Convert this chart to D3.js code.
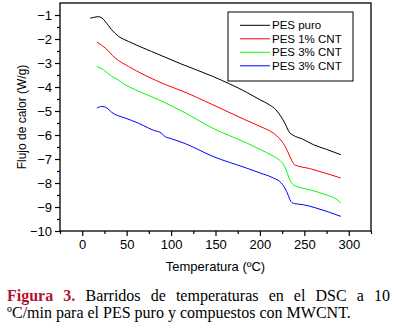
<!DOCTYPE html>
<html>
<head>
<meta charset="utf-8">
<script src="https://cdn.jsdelivr.net/npm/d3@7"></script>
<style>
  body { margin: 0; background: #fff; }
  #chart { position: relative; width: 395px; height: 335px; }
  .caption { position: absolute; left: 7px; width: 383px; font-family: "Liberation Serif", "Times New Roman", serif; font-size: 16px; line-height: 16px; color: #000; white-space: nowrap; }
  .caption.first { top: 288px; text-align: justify; text-align-last: justify; white-space: normal; }
  .caption.second { top: 305px; }
  .fig { color: #b3122c; font-weight: bold; }
</style>
</head>
<body>
<div id="chart"></div>
<script>
// series data (temperature in ºC, heat flow in W/g)
const tempPuro = [9, 13, 18, 22, 26, 33, 41, 52, 78, 110, 147, 185, 200, 211, 218, 224, 228, 233, 237, 248, 260, 275, 291];
const flujoPuro = [-1.13, -1.1, -1.07, -1.12, -1.27, -1.61, -1.89, -2.1, -2.52, -3.02, -3.56, -4.22, -4.53, -4.75, -4.95, -5.25, -5.5, -5.88, -6.0, -6.17, -6.4, -6.6, -6.82];

const temp1CNT = [16.5, 26, 37, 52, 70, 95, 110, 147, 183, 200, 215, 222, 228, 232, 235, 239, 256, 291];
const flujo1CNT = [-2.13, -2.38, -2.79, -3.14, -3.5, -3.92, -4.13, -4.74, -5.36, -5.64, -5.92, -6.15, -6.45, -6.75, -7.0, -7.24, -7.4, -7.79];

const temp3CNT = [16.5, 24, 33, 41, 48, 59.5, 86, 116, 147, 185, 200, 215, 222, 227, 231, 234, 237, 240, 256, 275, 285, 291];
const flujo3CNT = [-3.14, -3.28, -3.55, -3.72, -3.9, -4.11, -4.53, -5.08, -5.72, -6.33, -6.6, -6.88, -7.05, -7.25, -7.6, -7.9, -8.05, -8.12, -8.28, -8.5, -8.65, -8.83];

const temp3CNTb = [16.5, 22, 28, 33, 48, 63, 74.5, 80, 89, 93, 100, 116, 147, 185, 200, 215, 224, 230, 235, 239, 248, 263, 291];
const flujo3CNTb = [-4.88, -4.81, -4.88, -5.05, -5.29, -5.5, -5.71, -5.8, -5.92, -6.06, -6.15, -6.36, -6.89, -7.38, -7.58, -7.79, -8.0, -8.35, -8.77, -8.86, -8.9, -9.04, -9.39];

const seriesNames = ["PES puro", "PES 1% CNT", "PES 3% CNT", "PES 3% CNT"];
const seriesColors = ["#000000", "#ff0000", "#00ff00", "#0000ff"];

const xTicks = [0, 50, 100, 150, 200, 250, 300];
const yTicks = [-1, -2, -3, -4, -5, -6, -7, -8, -9, -10];

const margin = {top: 3, right: 24, bottom: 104, left: 60};
const width = 395 - margin.left - margin.right;
const height = 335 - margin.top - margin.bottom;

const svg = d3.select("#chart")
    .append("svg")
    .attr("width", 395)
    .attr("height", 335)
    .style("position", "absolute")
    .style("left", 0)
    .style("top", 0);

const g = svg.append("g")
    .attr("transform", `translate(${margin.left},${margin.top})`);

const xScale = d3.scaleLinear().domain([-25, 325]).range([0, width]);
const yScale = d3.scaleLinear().domain([-10, -0.5]).range([height, 0]);

// minor ticks first
g.append("g")
    .attr("transform", `translate(0,${height})`)
    .call(d3.axisBottom(xScale).tickValues(d3.range(-25, 326, 50)).tickSize(3).tickFormat(""))
    .call(a => a.select(".domain").remove());
g.append("g")
    .call(d3.axisLeft(yScale).tickValues(d3.range(-9.5, -0.9, 1)).tickSize(3).tickFormat(""))
    .call(a => a.select(".domain").remove());

// major ticks
const xAxis = g.append("g")
    .attr("transform", `translate(0,${height})`)
    .call(d3.axisBottom(xScale).tickValues(xTicks).tickSize(5).tickPadding(4));
xAxis.select(".domain").remove();
xAxis.selectAll("text").style("font-size", "13px");

const yAxis = g.append("g")
    .call(d3.axisLeft(yScale).tickValues(yTicks).tickSize(5).tickPadding(3).tickFormat(d3.format("d")));
yAxis.select(".domain").remove();
yAxis.selectAll("text").style("font-size", "13px");

g.selectAll(".tick line").attr("stroke", "#000").attr("stroke-width", 1.2);
g.selectAll(".tick text").attr("fill", "#000").style("font-family", "'Liberation Sans', Arial, sans-serif");

// frame
g.append("rect")
    .attr("width", width)
    .attr("height", height)
    .attr("fill", "none")
    .attr("stroke", "#000")
    .attr("stroke-width", 1.3);

// lines
const seriesData = [
    d3.zip(tempPuro, flujoPuro),
    d3.zip(temp1CNT, flujo1CNT),
    d3.zip(temp3CNT, flujo3CNT),
    d3.zip(temp3CNTb, flujo3CNTb)
];

const lineGenerator = d3.line()
    .x(d => xScale(d[0]))
    .y(d => yScale(d[1]))
    .curve(d3.curveMonotoneX);

g.selectAll(".serie")
    .data(seriesData)
    .join("path")
    .attr("class", "serie")
    .attr("fill", "none")
    .attr("stroke", (d, i) => seriesColors[i])
    .attr("stroke-width", 1)
    .attr("d", lineGenerator);

// legend
const legend = g.append("g").attr("transform", `translate(${228 - margin.left},${12 - margin.top})`);
legend.append("rect")
    .attr("width", 125)
    .attr("height", 69)
    .attr("fill", "#fff")
    .attr("stroke", "#000")
    .attr("stroke-width", 1);

const items = legend.selectAll(".item")
    .data(seriesNames)
    .join("g")
    .attr("class", "item")
    .attr("transform", (d, i) => `translate(0,${13.3 + i * 13.5})`);
items.append("line")
    .attr("x1", 12).attr("x2", 42)
    .attr("stroke", (d, i) => seriesColors[i])
    .attr("stroke-width", 1);
items.append("text")
    .attr("x", 44)
    .attr("dy", "0.35em")
    .style("font-family", "'Liberation Sans', Arial, sans-serif")
    .style("font-size", "11.5px")
    .text(d => d);

// axis titles
g.append("text")
    .attr("x", width / 2)
    .attr("y", 271 - margin.top)
    .attr("text-anchor", "middle")
    .style("font-family", "'Liberation Sans', Arial, sans-serif")
    .style("font-size", "13px")
    .text("Temperatura (ºC)");

g.append("text")
    .attr("transform", `translate(${26 - margin.left},${height / 2}) rotate(-90)`)
    .attr("text-anchor", "middle")
    .style("font-family", "'Liberation Sans', Arial, sans-serif")
    .style("font-size", "12px")
    .text("Flujo de calor (W/g)");

// caption
const chart = d3.select("#chart");
chart.append("div")
    .attr("class", "caption first")
    .html('<span class="fig">Figura 3.</span> Barridos de temperaturas en el DSC a 10');
chart.append("div")
    .attr("class", "caption second")
    .text("ºC/min para el PES puro y compuestos con MWCNT.");
</script>
</body>
</html>
